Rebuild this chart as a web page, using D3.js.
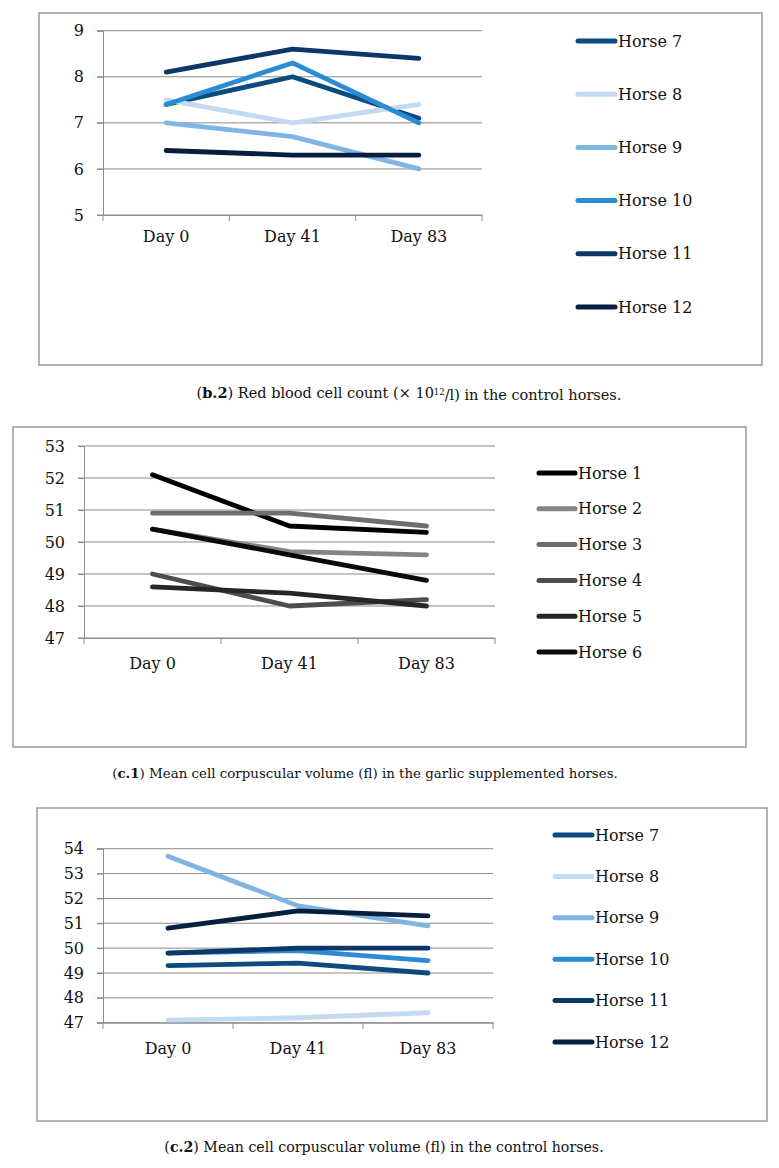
<!DOCTYPE html>
<html>
<head>
<meta charset="utf-8">
<script src="https://cdn.jsdelivr.net/npm/d3@7"></script>
<style>
  html, body { margin: 0; padding: 0; background: #fff; }
  svg { display: block; }
  text { font-family: "DejaVu Serif", serif; fill: #111; }
</style>
</head>
<body>
<svg id="chart" width="779" height="1168"></svg>
<script>
// ---------------- DATA ----------------
const days = ["Day 0", "Day 41", "Day 83"];

// (b.2) Red blood cell count, control horses
const rbcHorses = ["Horse 7", "Horse 8", "Horse 9", "Horse 10", "Horse 11", "Horse 12"];
const rbcValues = [
  [7.4, 8.0, 7.1],
  [7.5, 7.0, 7.4],
  [7.0, 6.7, 6.0],
  [7.4, 8.3, 7.0],
  [8.1, 8.6, 8.4],
  [6.4, 6.3, 6.3]
];
const rbcTicks = [5, 6, 7, 8, 9];

// (c.1) MCV, garlic supplemented horses
const mcvGarlicHorses = ["Horse 1", "Horse 2", "Horse 3", "Horse 4", "Horse 5", "Horse 6"];
const mcvGarlicValues = [
  [52.1, 50.5, 50.3],
  [50.4, 49.7, 49.6],
  [50.9, 50.9, 50.5],
  [49.0, 48.0, 48.2],
  [48.6, 48.4, 48.0],
  [50.4, 49.6, 48.8]
];
const mcvGarlicTicks = [47, 48, 49, 50, 51, 52, 53];

// (c.2) MCV, control horses
const mcvControlHorses = ["Horse 7", "Horse 8", "Horse 9", "Horse 10", "Horse 11", "Horse 12"];
const mcvControlValues = [
  [49.3, 49.4, 49.0],
  [47.1, 47.2, 47.4],
  [53.7, 51.7, 50.9],
  [49.8, 49.9, 49.5],
  [49.8, 50.0, 50.0],
  [50.8, 51.5, 51.3]
];
const mcvControlTicks = [47, 48, 49, 50, 51, 52, 53, 54];

const blueColors = ["#0c4a80", "#c3daf0", "#7fb4e3", "#2a8cd5", "#0b3866", "#071f3e"];
const grayColors = ["#000000", "#858585", "#6e6e6e", "#4d4d4d", "#262626", "#0a0a0a"];

// ---------------- DRAW ----------------
const svg = d3.select("#chart");

function panel(cfg) {
  const g = svg.append("g");
  // box
  g.append("rect")
    .attr("x", cfg.box[0]).attr("y", cfg.box[1])
    .attr("width", cfg.box[2]).attr("height", cfg.box[3])
    .attr("fill", "#fff").attr("stroke", "#9a9a9a").attr("stroke-width", 1.5);

  const x = d3.scaleBand().domain(days).range([cfg.xLeft, cfg.xRight]);
  const y = d3.scaleLinear().domain(d3.extent(cfg.ticks)).range([cfg.yBottom, cfg.yTop]);

  // gridlines
  g.append("g").selectAll("line").data(cfg.ticks).join("line")
    .attr("x1", cfg.xLeft - 6).attr("x2", cfg.xRight)
    .attr("y1", d => y(d)).attr("y2", d => y(d))
    .attr("stroke", "#8c8c8c").attr("stroke-width", 1);

  // y axis
  const ya = g.append("g").attr("transform", `translate(${cfg.xLeft},0)`)
    .call(d3.axisLeft(y).tickValues(cfg.ticks).tickSize(6).tickPadding(13).tickFormat(d3.format("d")));
  ya.select(".domain").attr("stroke", "#8c8c8c");
  ya.selectAll(".tick line").attr("stroke", "#8c8c8c");
  ya.selectAll("text").style("font-family", "DejaVu Serif").style("font-size", "16px").attr("fill", "#111");

  // x axis (labels at band centres, ticks at band edges)
  const xa = g.append("g").attr("transform", `translate(0,${cfg.yBottom})`)
    .call(d3.axisBottom(x).tickSize(0).tickPadding(cfg.xLabelPad));
  xa.select(".domain").attr("stroke", "#8c8c8c");
  xa.selectAll("text").style("font-family", "DejaVu Serif").style("font-size", "16px").attr("fill", "#111");
  const edges = days.map(d => x(d)).concat([x.range()[1]]);
  g.append("g").selectAll("line").data(edges).join("line")
    .attr("x1", d => d).attr("x2", d => d)
    .attr("y1", cfg.yBottom).attr("y2", cfg.yBottom + 6)
    .attr("stroke", "#8c8c8c").attr("stroke-width", 1);

  // series
  const line = d3.line()
    .x((v, i) => x(days[i]) + x.bandwidth() / 2)
    .y(v => y(v));
  g.append("g").selectAll("path").data(cfg.values).join("path")
    .attr("d", d => line(d))
    .attr("fill", "none")
    .attr("stroke", (d, i) => cfg.colors[i])
    .attr("stroke-width", 4.8)
    .attr("stroke-linecap", "round")
    .attr("stroke-linejoin", "round");

  // legend
  const lg = g.append("g").selectAll("g").data(cfg.names).join("g")
    .attr("transform", (d, i) => `translate(${cfg.legX},${cfg.legY + i * cfg.legDy})`);
  lg.append("line")
    .attr("x1", 2).attr("x2", cfg.legLen - 2).attr("y1", 0).attr("y2", 0)
    .attr("stroke", (d, i) => cfg.colors[i])
    .attr("stroke-width", 5).attr("stroke-linecap", "round");
  lg.append("text")
    .attr("x", cfg.legLen + 1).attr("y", 0).attr("dy", "0.35em")
    .style("font-size", "16px")
    .text(d => d);

  // caption
  const cap = svg.append("text")
    .attr("x", cfg.capX).attr("y", cfg.capY)
    .attr("dy", "0.35em")
    .attr("text-anchor", "middle")
    .style("font-size", cfg.capSize + "px");
  cap.append("tspan").text("(");
  cap.append("tspan").style("font-weight", "bold").text(cfg.capLabel);
  cap.append("tspan").text(")" + cfg.capPre);
  if (cfg.capSup) {
    cap.append("tspan").attr("dy", "-0.4em").style("font-size", "8.5px").text(cfg.capSup);
    cap.append("tspan").attr("dy", "0.4em").text(cfg.capPost);
  }
}

panel({
  box: [39, 13, 723, 352],
  ticks: rbcTicks, values: rbcValues, names: rbcHorses, colors: blueColors,
  xLeft: 103, xRight: 482, yTop: 30.7, yBottom: 215, xLabelPad: 16,
  legX: 576, legY: 41, legDy: 53.2, legLen: 41,
  capX: 409, capY: 393, capSize: 14.5, capLabel: "b.2",
  capPre: " Red blood cell count (× 10", capSup: "12", capPost: "/l) in the control horses."
});

panel({
  box: [13, 427, 733, 320],
  ticks: mcvGarlicTicks, values: mcvGarlicValues, names: mcvGarlicHorses, colors: grayColors,
  xLeft: 84, xRight: 495, yTop: 446, yBottom: 638, xLabelPad: 20,
  legX: 537, legY: 473, legDy: 35.8, legLen: 40,
  capX: 365, capY: 773, capSize: 13.4, capLabel: "c.1",
  capPre: " Mean cell corpuscular volume (fl) in the garlic supplemented horses."
});

panel({
  box: [37, 808, 730, 313],
  ticks: mcvControlTicks, values: mcvControlValues, names: mcvControlHorses, colors: blueColors,
  xLeft: 103, xRight: 493, yTop: 848.7, yBottom: 1022.7, xLabelPad: 20,
  legX: 553, legY: 835, legDy: 41.4, legLen: 41,
  capX: 384, capY: 1147, capSize: 14.2, capLabel: "c.2",
  capPre: " Mean cell corpuscular volume (fl) in the control horses."
});
</script>
</body>
</html>
